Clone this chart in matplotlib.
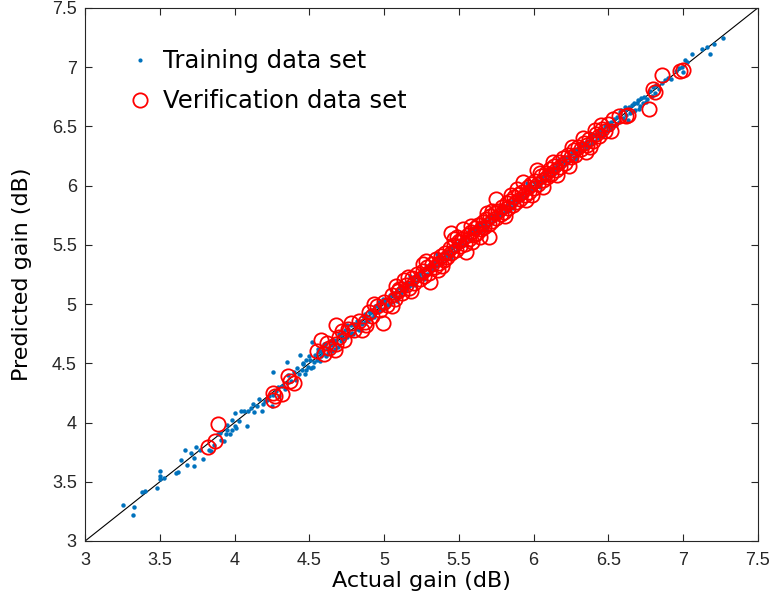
import matplotlib
matplotlib.use("Agg")
import matplotlib.pyplot as plt

# ---- data ----
train_actual = [
    3.25, 3.32, 3.33, 3.38, 3.40, 3.48, 3.50, 3.50, 3.50, 3.53, 3.61, 3.62, 3.64, 3.67, 3.68,
    3.71, 3.73, 3.73, 3.74, 3.77, 3.79, 3.83, 3.84, 3.86, 3.89, 3.90, 3.91, 3.93, 3.94, 3.95,
    3.95, 3.97, 3.98, 3.98, 4.00, 4.00, 4.01, 4.03, 4.04, 4.06, 4.08, 4.09, 4.11, 4.12, 4.13,
    4.15, 4.16, 4.18, 4.19, 4.20, 4.22, 4.23, 4.25, 4.26, 4.26, 4.28, 4.29, 4.30, 4.32, 4.34,
    4.35, 4.35, 4.36, 4.38, 4.40, 4.41, 4.42, 4.43, 4.44, 4.45, 4.46, 4.47, 4.48, 4.49, 4.50,
    4.51, 4.52, 4.53, 4.54, 4.55, 4.56, 4.57, 4.58, 4.59, 4.60, 4.61, 4.62, 4.63, 4.64, 4.65,
    4.66, 4.67, 4.68, 4.69, 4.70, 4.71, 4.72, 4.73, 4.74, 4.75, 4.76, 4.77, 4.78, 4.79, 4.80,
    4.81, 4.82, 4.83, 4.84, 4.85, 4.86, 4.87, 4.88, 4.89, 4.90, 4.91, 4.92, 4.93, 4.94, 4.95,
    4.96, 4.97, 4.98, 4.99, 5.00, 5.01, 5.02, 5.03, 5.04, 5.05, 5.06, 5.07, 5.08, 5.09, 5.10,
    5.11, 5.12, 5.13, 5.14, 5.15, 5.16, 5.17, 5.18, 5.19, 5.20, 5.21, 5.22, 5.23, 5.24, 5.25,
    5.26, 5.27, 5.28, 5.29, 5.30, 5.31, 5.32, 5.33, 5.34, 5.35, 5.36, 5.37, 5.38, 5.39, 5.40,
    5.41, 5.42, 5.43, 5.44, 5.45, 5.46, 5.47, 5.48, 5.49, 5.50, 5.51, 5.52, 5.53, 5.54, 5.55,
    5.56, 5.57, 5.58, 5.59, 5.60, 5.61, 5.62, 5.63, 5.64, 5.65, 5.66, 5.67, 5.68, 5.69, 5.70,
    5.71, 5.72, 5.73, 5.74, 5.75, 5.76, 5.77, 5.78, 5.79, 5.80, 5.81, 5.82, 5.83, 5.84, 5.85,
    5.86, 5.87, 5.88, 5.89, 5.90, 5.91, 5.92, 5.93, 5.94, 5.95, 5.96, 5.97, 5.98, 5.99, 6.00,
    6.01, 6.02, 6.03, 6.04, 6.05, 6.06, 6.07, 6.08, 6.09, 6.10, 6.11, 6.12, 6.13, 6.14, 6.15,
    6.16, 6.17, 6.18, 6.19, 6.20, 6.21, 6.22, 6.23, 6.24, 6.25, 6.26, 6.27, 6.28, 6.29, 6.30,
    6.31, 6.32, 6.33, 6.34, 6.35, 6.36, 6.37, 6.38, 6.39, 6.40, 6.41, 6.42, 6.43, 6.44, 6.45,
    6.46, 6.47, 6.48, 6.49, 6.50, 6.51, 6.52, 6.53, 6.54, 6.55, 6.56, 6.57, 6.58, 6.60, 6.61,
    6.62, 6.63, 6.64, 6.65, 6.66, 6.67, 6.68, 6.69, 6.70, 6.71, 6.72, 6.73, 6.74, 6.75, 6.76,
    6.78, 6.79, 6.80, 6.81, 6.82, 6.84, 6.86, 6.88, 6.90, 6.92, 6.95, 6.97, 6.99, 7.00, 7.01,
    7.03, 7.06, 7.13, 7.16, 7.18, 7.21, 7.27,
    4.455, 4.475, 4.505, 4.525, 4.555, 4.575, 4.605, 4.625, 4.645, 4.675, 4.705, 4.725, 4.755,
    4.785, 4.815, 4.845, 4.875, 4.905, 4.935, 4.965, 4.995, 5.025, 5.055, 5.085, 5.115, 5.145,
    5.175, 5.205, 5.235, 5.265, 5.295, 5.325, 5.355, 5.385, 5.415, 5.445, 5.475, 5.505, 5.535,
    5.565, 5.595, 5.625, 5.655, 5.685, 5.715, 5.745, 5.775, 5.805, 5.835, 5.865, 5.895, 5.925,
    5.955, 5.985, 6.015, 6.045, 6.075, 6.105, 6.135, 6.165, 6.195, 6.225, 6.255, 6.285, 6.315,
    6.345, 6.375, 6.405, 6.435, 6.465, 6.495, 6.525, 6.555, 6.585, 6.615, 6.645, 6.675, 6.705,
]
train_predicted = [
    3.30, 3.22, 3.29, 3.41, 3.42, 3.45, 3.59, 3.55, 3.52, 3.53, 3.57, 3.58, 3.68, 3.77, 3.64,
    3.74, 3.70, 3.63, 3.79, 3.77, 3.69, 3.77, 3.76, 3.81, 3.90, 3.91, 3.85, 3.84, 3.90, 3.94,
    3.98, 3.90, 3.94, 4.02, 4.08, 3.97, 3.95, 4.01, 4.10, 4.10, 3.97, 4.10, 4.12, 4.16, 4.09,
    4.14, 4.20, 4.10, 4.16, 4.18, 4.19, 4.22, 4.14, 4.23, 4.43, 4.27, 4.30, 4.22, 4.31, 4.28,
    4.51, 4.33, 4.40, 4.35, 4.43, 4.36, 4.46, 4.41, 4.57, 4.44, 4.49, 4.41, 4.53, 4.47, 4.56,
    4.46, 4.68, 4.51, 4.57, 4.53, 4.62, 4.52, 4.60, 4.58, 4.66, 4.56, 4.63, 4.61, 4.69, 4.60,
    4.70, 4.66, 4.70, 4.64, 4.75, 4.69, 4.76, 4.71, 4.78, 4.72, 4.79, 4.75, 4.82, 4.75, 4.83,
    4.79, 4.86, 4.78, 4.86, 4.83, 4.90, 4.85, 4.89, 4.86, 4.94, 4.88, 4.95, 4.91, 4.98, 4.93,
    4.98, 4.95, 5.02, 4.96, 5.03, 4.99, 5.04, 5.00, 5.08, 5.02, 5.09, 5.05, 5.10, 5.06, 5.14,
    5.09, 5.14, 5.11, 5.18, 5.12, 5.18, 5.15, 5.22, 5.16, 5.23, 5.18, 5.25, 5.20, 5.26, 5.22,
    5.28, 5.24, 5.31, 5.25, 5.33, 5.28, 5.34, 5.30, 5.36, 5.32, 5.40, 5.34, 5.40, 5.35, 5.43,
    5.38, 5.45, 5.41, 5.48, 5.42, 5.48, 5.44, 5.51, 5.46, 5.52, 5.48, 5.56, 5.50, 5.57, 5.52,
    5.58, 5.55, 5.61, 5.55, 5.63, 5.59, 5.64, 5.60, 5.67, 5.62, 5.68, 5.64, 5.70, 5.66, 5.73,
    5.68, 5.74, 5.70, 5.76, 5.72, 5.78, 5.75, 5.80, 5.76, 5.82, 5.78, 5.84, 5.79, 5.86, 5.82,
    5.88, 5.84, 5.90, 5.86, 5.92, 5.88, 5.94, 5.90, 5.97, 5.92, 5.98, 5.95, 6.00, 5.96, 6.03,
    5.98, 6.04, 6.00, 6.07, 6.02, 6.08, 6.04, 6.10, 6.06, 6.12, 6.08, 6.14, 6.10, 6.16, 6.12,
    6.18, 6.14, 6.21, 6.16, 6.22, 6.18, 6.24, 6.20, 6.26, 6.22, 6.28, 6.24, 6.30, 6.26, 6.32,
    6.28, 6.34, 6.30, 6.36, 6.32, 6.38, 6.34, 6.40, 6.36, 6.43, 6.38, 6.44, 6.40, 6.46, 6.42,
    6.48, 6.44, 6.50, 6.46, 6.51, 6.48, 6.54, 6.50, 6.56, 6.52, 6.58, 6.54, 6.62, 6.57, 6.64,
    6.60, 6.55, 6.66, 6.62, 6.68, 6.63, 6.64, 6.70, 6.72, 6.67, 6.74, 6.70, 6.75, 6.71, 6.73,
    6.80, 6.76, 6.83, 6.78, 6.85, 6.82, 6.87, 6.89, 6.91, 6.90, 6.97, 6.99, 7.00, 6.96, 7.06,
    7.04, 7.11, 7.15, 7.17, 7.11, 7.20, 7.25,
    4.505, 4.445, 4.525, 4.465, 4.595, 4.565, 4.665, 4.585, 4.655, 4.625, 4.735, 4.705, 4.825,
    4.755, 4.815, 4.785, 4.915, 4.925, 4.895, 5.015, 5.045, 4.995, 5.075, 5.025, 5.155, 5.135,
    5.235, 5.165, 5.245, 5.215, 5.325, 5.305, 5.425, 5.355, 5.415, 5.385, 5.515, 5.525, 5.495,
    5.615, 5.645, 5.595, 5.675, 5.625, 5.755, 5.735, 5.835, 5.765, 5.845, 5.815, 5.925, 5.905,
    6.025, 5.955, 6.015, 5.985, 6.115, 6.125, 6.095, 6.215, 6.245, 6.195, 6.275, 6.225, 6.355,
    6.335, 6.435, 6.365, 6.445, 6.415, 6.525, 6.505, 6.515, 6.635, 6.665, 6.615, 6.695, 6.645,
]
verif_actual = [
    3.82, 3.87, 3.89, 4.26, 4.26, 4.27, 4.32, 4.37, 4.40, 4.36, 4.55, 4.58, 4.60, 4.63, 4.67,
    4.68, 4.68, 4.70, 4.73, 4.76, 4.80, 4.83, 4.87, 4.90, 4.92, 4.95, 4.97, 4.99, 5.00, 5.02,
    5.05, 5.07, 5.09, 5.10, 5.12, 5.13, 5.15, 5.17, 5.19, 5.20, 5.22, 5.24, 5.26, 5.27, 5.29,
    5.30, 5.31, 5.32, 5.34, 5.35, 5.37, 5.38, 5.40, 5.41, 5.42, 5.44, 5.45, 5.45, 5.47, 5.48,
    5.50, 5.51, 5.52, 5.53, 5.54, 5.55, 5.56, 5.57, 5.58, 5.60, 5.61, 5.62, 5.63, 5.65, 5.66,
    5.67, 5.68, 5.70, 5.70, 5.71, 5.72, 5.74, 5.75, 5.75, 5.76, 5.78, 5.79, 5.80, 5.82, 5.83,
    5.84, 5.86, 5.87, 5.88, 5.90, 5.91, 5.92, 5.93, 5.94, 5.96, 5.97, 5.98, 6.00, 6.01, 6.02,
    6.03, 6.05, 6.06, 6.08, 6.09, 6.11, 6.12, 6.14, 6.15, 6.17, 6.18, 6.20, 6.21, 6.23, 6.25,
    6.27, 6.28, 6.30, 6.32, 6.34, 6.36, 6.37, 6.40, 6.42, 6.44, 6.46, 6.48, 6.50, 6.53, 6.57,
    6.62, 6.63, 6.77, 6.80, 6.81, 6.86, 6.98, 7.00,
    5.05, 5.16, 5.36, 5.58, 5.64, 5.85, 5.95, 6.13, 6.24, 6.33, 4.78, 4.85, 5.47, 5.72, 6.06,
    6.45, 6.38, 5.26,
    5.08, 5.18, 5.28, 5.39, 5.49, 5.59, 5.69, 5.81, 5.89, 5.99, 6.04, 6.16, 6.26, 6.35, 6.41,
    6.52, 4.93, 4.88, 4.72, 4.62,
]
verif_predicted = [
    3.79, 3.84, 3.99, 4.19, 4.25, 4.22, 4.24, 4.35, 4.33, 4.39, 4.60, 4.70, 4.58, 4.63, 4.61,
    4.82, 4.66, 4.72, 4.70, 4.79, 4.78, 4.86, 4.85, 4.93, 4.90, 4.98, 4.95, 4.84, 5.02, 4.99,
    5.08, 5.04, 5.11, 5.13, 5.09, 5.20, 5.16, 5.14, 5.22, 5.18, 5.25, 5.21, 5.28, 5.24, 5.31,
    5.26, 5.19, 5.34, 5.31, 5.38, 5.35, 5.41, 5.37, 5.43, 5.40, 5.47, 5.60, 5.43, 5.50, 5.46,
    5.53, 5.49, 5.55, 5.63, 5.51, 5.44, 5.58, 5.55, 5.61, 5.58, 5.64, 5.60, 5.67, 5.63, 5.69,
    5.65, 5.72, 5.57, 5.68, 5.74, 5.70, 5.77, 5.89, 5.73, 5.79, 5.76, 5.82, 5.78, 5.85, 5.81,
    5.87, 5.84, 5.90, 5.86, 5.93, 5.89, 5.95, 6.03, 5.92, 5.99, 5.95, 6.01, 5.98, 6.04, 6.13,
    6.01, 6.08, 6.05, 6.11, 6.07, 6.14, 6.10, 6.17, 6.13, 6.20, 6.16, 6.23, 6.19, 6.26, 6.24,
    6.30, 6.26, 6.33, 6.31, 6.36, 6.34, 6.39, 6.38, 6.44, 6.42, 6.48, 6.46, 6.52, 6.56, 6.59,
    6.59, 6.60, 6.65, 6.82, 6.79, 6.93, 6.97, 6.98,
    4.98, 5.23, 5.29, 5.66, 5.57, 5.92, 5.88, 6.20, 6.17, 6.40, 4.84, 4.78, 5.55, 5.79, 5.99,
    6.51, 6.33, 5.34,
    5.15, 5.11, 5.36, 5.32, 5.57, 5.52, 5.77, 5.74, 5.97, 5.92, 6.11, 6.09, 6.33, 6.28, 6.47,
    6.46, 5.00, 4.82, 4.77, 4.67,
]
tick_values = [3, 3.5, 4, 4.5, 5, 5.5, 6, 6.5, 7, 7.5]
tick_labels = ["3", "3.5", "4", "4.5", "5", "5.5", "6", "6.5", "7", "7.5"]

# ---- figure ----
fig = plt.figure(figsize=(7.74, 6.09), dpi=100)
ax = fig.add_axes([0.110, 0.1117, 0.869, 0.8752])

ax.plot([3, 7.5], [3, 7.5], color="black", lw=0.8, zorder=1)
ax.plot(train_actual, train_predicted, linestyle="none", marker="o", ms=3.2,
        mfc="#0072BD", mec="#0072BD", mew=0, label="Training data set", zorder=2)
ax.plot(verif_actual, verif_predicted, linestyle="none", marker="o", ms=10.3,
        mfc="none", mec="#FF0000", mew=1.3, label="Verification data set", zorder=3)

ax.set_xlim(3, 7.5)
ax.set_ylim(3, 7.5)
ax.set_xticks(tick_values)
ax.set_yticks(tick_values)
tick_font = dict(family=["Liberation Sans Narrow", "Liberation Sans", "DejaVu Sans"], size=13)
ax.set_xticklabels(tick_labels, fontdict=tick_font, color="#262626")
ax.set_yticklabels(tick_labels, fontdict=tick_font, color="#262626")
ax.tick_params(direction="in", length=5, width=0.8, top=True, right=True, colors="#262626",
               pad=6)
ax.tick_params(axis="x", pad=8)
for s in ax.spines.values():
    s.set_linewidth(0.8)
    s.set_color("#262626")

ax.set_xlabel("Actual gain (dB)", fontsize=16)
ax.set_ylabel("Predicted gain (dB)", fontsize=16)
ax.xaxis.set_label_coords(0.5, -0.056)
ax.yaxis.set_label_coords(-0.079, 0.5)

leg = ax.legend(loc="upper left", frameon=False, fontsize=17.5, handlelength=1.0,
                handletextpad=0.45, borderaxespad=0.0, bbox_to_anchor=(0.049, 0.941),
                labelspacing=0.66)
leg.legend_handles[0].set_markersize(3)

fig.savefig("out.png", dpi=100)
